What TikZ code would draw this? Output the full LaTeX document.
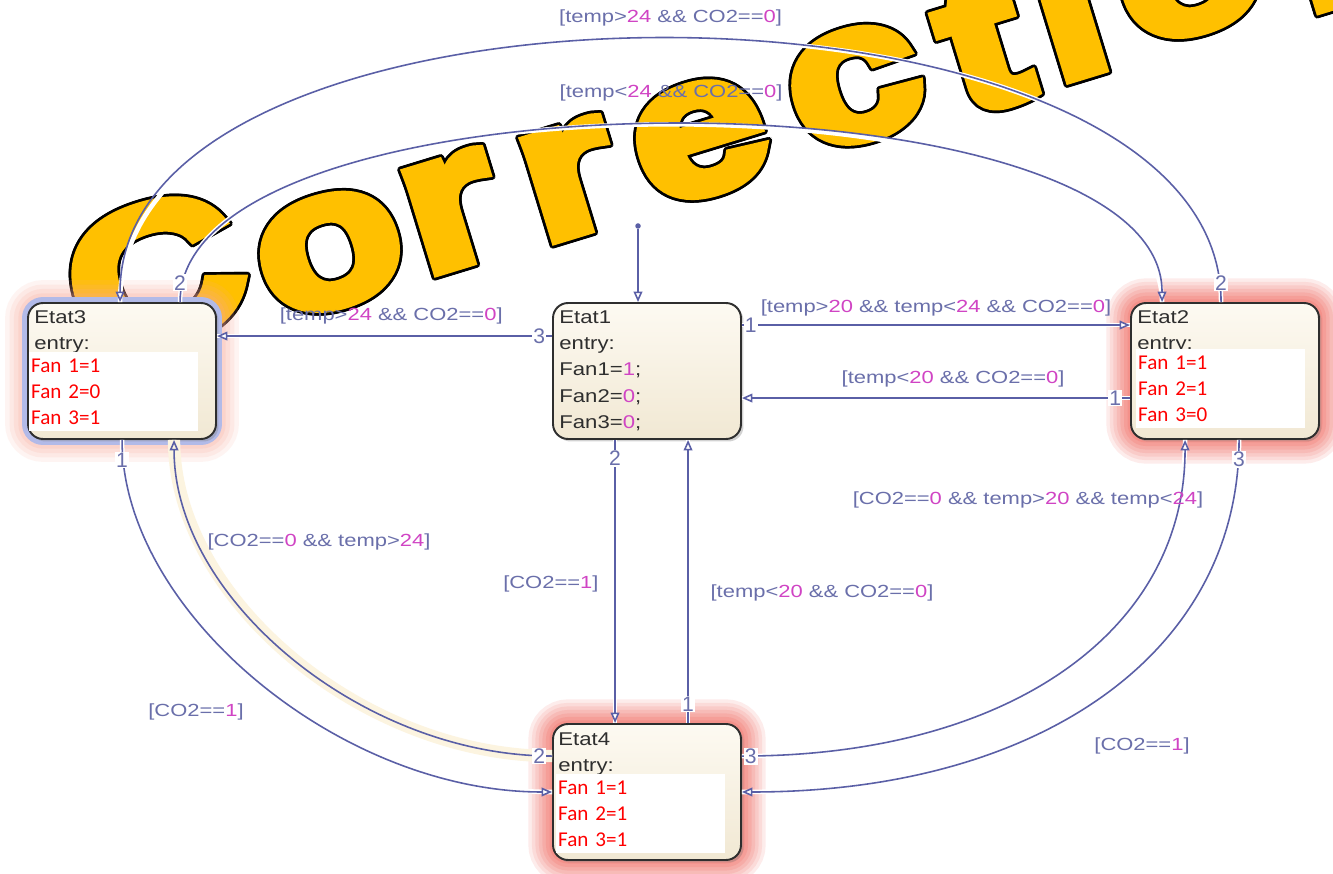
\documentclass[tikz,border=0pt]{standalone}
\usepackage{fontspec}
\setmainfont{Liberation Sans}
\newfontfamily\condfont{Liberation Sans}[FakeStretch=1.25]
\newfontfamily\boxfont{Liberation Sans}[FakeStretch=1.2]
\newfontfamily\fanfont{Carlito}
\newfontfamily\wmfont{Liberation Sans Bold}[FakeStretch=1.25,FakeBold=6]
\usetikzlibrary{arrows.meta, positioning, calc, shadows}

\definecolor{linec}{HTML}{5A5FA6}
\definecolor{condc}{HTML}{6A6FAA}
\definecolor{numc}{HTML}{D044C4}
\definecolor{inkc}{HTML}{2E2E2E}
\definecolor{creamtop}{HTML}{FDFAF2}
\definecolor{creambot}{HTML}{F1E8D3}
\definecolor{creamhalo}{HTML}{FCF4E0}
\definecolor{glowred}{HTML}{F04A40}
\definecolor{glowpink}{HTML}{F7A898}
\definecolor{selblue}{HTML}{B2BAE8}
\definecolor{wmyellow}{HTML}{FFC000}

\newcommand{\nv}[1]{\textcolor{numc}{#1}}

\tikzset{
    state box/.style={rounded corners=0.3cm, draw=inkc, line width=1.1pt,
      top color=creamtop, bottom color=creambot, inner sep=0pt,
      minimum width=3.76cm, minimum height=2.72cm},
    shadowed/.style={drop shadow={opacity=.35, shadow xshift=.05cm, shadow yshift=-.05cm}},
    active/.style={preaction={draw=glowred, line width=28pt, opacity=.1},
      preaction={draw=glowred, line width=24pt, opacity=.1},
      preaction={draw=glowred, line width=20pt, opacity=.11},
      preaction={draw=glowred, line width=16pt, opacity=.12},
      preaction={draw=glowred, line width=12pt, opacity=.13},
      preaction={draw=glowred, line width=8pt, opacity=.14},
      preaction={draw=glowred, line width=4pt, opacity=.15}, shadowed},
    selected/.style={preaction={draw=glowpink, line width=26pt, opacity=.12},
      preaction={draw=glowpink, line width=21pt, opacity=.14},
      preaction={draw=glowpink, line width=16pt, opacity=.16},
      preaction={draw=glowpink, line width=11pt, opacity=.2},
      preaction={draw=selblue, line width=6.8pt}, shadowed},
    stext/.style={text=inkc, font=\boxfont\fontsize{10.5}{15}\selectfont,
      align=left, inner sep=0pt, anchor=north west},
    fanbox/.style={fill=white, text=red, font=\fanfont\fontsize{12}{14.8}\selectfont,
      align=left, text width=3.3cm, minimum height=1.58cm, inner sep=1pt,
      anchor=north west},
    cond/.style={text=condc, font=\condfont\fontsize{10}{12}\selectfont, inner sep=1pt},
    tag/.style={text=condc, fill=white, font=\fontsize{12}{14}\selectfont, inner sep=0.6pt},
    tr/.style={draw=linec, line width=0.9pt, -{Triangle[open, length=6pt, width=5pt]},
      preaction={draw=white, line width=2.6pt, -}},
    halo/.style={preaction={draw=creamhalo, line width=7pt, -}},
    initdot/.style={circle, fill=linec, inner sep=0pt, minimum size=0.11cm},
    wordart/.style={font=\wmfont\fontsize{110}{112}\selectfont, anchor=center,
      rotate=17, inner sep=0pt}
}

\begin{document}
\begin{tikzpicture}[x=0.02cm, y=-0.02cm]
  \useasboundingbox (0,0) rectangle (1333,874);
  \fill[white] (0,0) rectangle (1333,874);
  \clip (0,0) rectangle (1333,874);

  % big outlined word behind the chart
  \foreach \ch/\cx/\cy [count=\k] in {C/155/275, o/330/252, r/452/212, r/570/180,
      e/700/140, c/855/86, t/982/44, i/1066/6, o/1190/-22, n/1360/-58} {
    \foreach \a in {0,30,...,330}
      \node[wordart, text=black, xshift={1.6pt*cos(\a)}, yshift={1.6pt*sin(\a)}]
        (wm\k-\a) at (\cx,\cy) {\ch};
    \node[wordart, text=wmyellow] (wm\k) at (\cx,\cy) {\ch};
  }

  % states
  \node[state box, shadowed] (e1) at (647,371) {};
  \node[state box, active]   (e2) at (1225,371) {};
  \node[state box, selected] (e3) at (122,371) {};
  \node[state box, active]   (e4) at (647,792) {};

  \node[stext] (e1txt) at ($(e1.north west)+(7,8)$)
    {Etat1\\entry:\\Fan1=\nv{1};\\Fan2=\nv{0};\\Fan3=\nv{0};};
  \node[stext] (e2txt) at ($(e2.north west)+(7,8)$) {Etat2\\entry:};
  \node[stext] (e3txt) at ($(e3.north west)+(7,8)$) {Etat3\\entry:};
  \node[stext] (e4txt) at ($(e4.north west)+(6,9)$) {Etat4\\entry:};

  \node[fanbox] (e2fan) at ($(e2.north west)+(6,47)$) {Fan 1=1\\Fan 2=1\\Fan 3=0};
  \node[fanbox] (e3fan) at ($(e3.north west)+(2,50)$) {Fan 1=1\\Fan 2=0\\Fan 3=1};
  \node[fanbox] (e4fan) at ($(e4.north west)+(4,51)$) {Fan 1=1\\Fan 2=1\\Fan 3=1};

  % transitions
  \node[initdot] (init) at (638,226) {};
  \draw[tr] (init) -- (init |- e1.north);

  \draw[tr] ($(e1.north west)+(0,34)$) --
    node[cond, above=0.18cm, pos=0.48] (c13) {[temp>\nv{24} \&\& CO2==\nv{0}]}
    node[tag, at start, left=0.1cm] (t13) {3}
    ($(e3.north east)+(0,34)$);
  \draw[tr] ($(e1.north east)+(0,23)$) --
    node[cond, above=0.12cm] (c12) {[temp>\nv{20} \&\& temp<\nv{24} \&\& CO2==\nv{0}]}
    node[tag, at start, right=0.02cm] (t12) {1}
    ($(e2.north west)+(0,23)$);
  \draw[tr] ($(e2.north west)+(0,96)$) --
    node[cond, above=0.16cm, pos=0.456] (c21) {[temp<\nv{20} \&\& CO2==\nv{0}]}
    node[tag, at start, left=0.14cm] (t21) {1}
    ($(e1.north east)+(0,96)$);
  \draw[tr] ($(e1.south west)+(63,0)$) --
    node[cond, left=0.28cm, pos=0.51] (c14) {[CO2==\nv{1}]}
    node[tag, at start, below=0.18cm] (t14) {2}
    ($(e4.north west)+(63,0)$);
  \draw[tr] ($(e4.north west)+(136,0)$) --
    node[cond, right=0.4cm, pos=0.46] (c41) {[temp<\nv{20} \&\& CO2==\nv{0}]}
    node[tag, at start, above=0.2cm] (t41) {1}
    ($(e1.south west)+(136,0)$);

  \draw[tr] ($(e2.north west)+(91,0)$) .. controls +(0,-351) and +(0,-351) ..
    node[cond, above=0.2cm] (c23) {[temp>\nv{24} \&\& CO2==\nv{0}]}
    node[tag, pos=0, above=0.2cm] (t23) {2}
    ($(e3.north west)+(93,0)$);
  \draw[tr] ($(e3.north west)+(153,0)$) .. controls +(0,-237) and +(0,-237) ..
    node[cond, above=0.42cm] (c32) {[temp<\nv{24} \&\& CO2==\nv{0}]}
    node[tag, pos=0, above=0.2cm] (t32) {2}
    ($(e2.north west)+(32,0)$);

  \draw[tr] ($(e3.south west)+(95,0)$) .. controls +(0,171) and +(-213,0) ..
    node[tag, pos=0, below=0.22cm] (t34) {1} (e4.west);
  \draw[tr, halo] ($(e4.north west)+(0,33)$) .. controls +(-189,0) and +(0,159) ..
    node[tag, pos=0, left=0.1cm] (t43) {2} ($(e3.south west)+(147,0)$);
  \draw[tr] ($(e4.north east)+(0,33)$) .. controls +(267,0) and +(0,191) ..
    node[tag, pos=0, right=0.02cm] (t42) {3} ($(e2.south west)+(55,0)$);
  \draw[tr] ($(e2.south west)+(109,0)$) .. controls +(0,212) and +(299,0) ..
    node[tag, pos=0, below=0.2cm] (t24) {3} (e4.east);

  \node[cond] (c34) at (196,712) {[CO2==\nv{1}]};
  \node[cond] (c43) at (319,542) {[CO2==\nv{0} \&\& temp>\nv{24}]};
  \node[cond] (c42) at (1028,500) {[CO2==\nv{0} \&\& temp>\nv{20} \&\& temp<\nv{24}]};
  \node[cond] (c24) at (1142,746) {[CO2==\nv{1}]};
\end{tikzpicture}
\end{document}
